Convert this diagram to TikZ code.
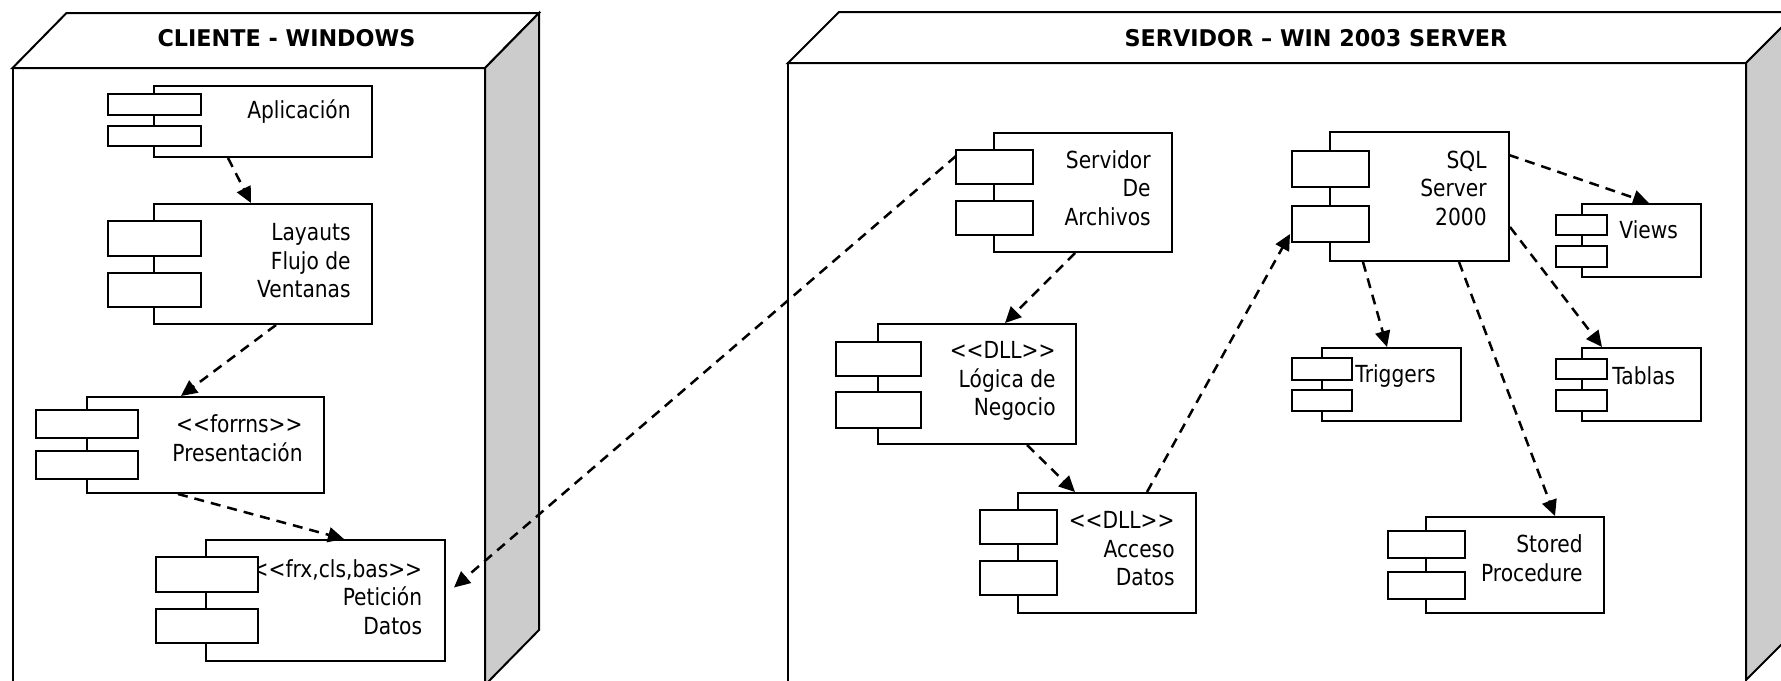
\documentclass[tikz,border=0pt]{standalone}
\usepackage{fontspec}
\setmainfont{DejaVu Sans}[FakeStretch=0.86]
\newfontfamily\titlefont{DejaVu Sans}[FakeStretch=0.97]
\usetikzlibrary{fit,calc,arrows.meta}
\newcommand\dlt{<\kern0pt<}
\newcommand\dgt{>\kern0pt>}
\begin{document}
\begin{tikzpicture}[x=0.5pt,y=-0.5pt,
  box/.style={draw, line width=1pt, fill=white, inner sep=0pt},
  txt/.style={inner sep=0pt, align=right, font=\fontsize{11.75pt}{14.25pt}\selectfont},
  txtl/.style={inner sep=0pt, anchor=west, font=\fontsize{11.75pt}{14.25pt}\selectfont},
  dep/.style={draw, line width=1.25pt, dash pattern=on 5pt off 3.5pt, -{Triangle[length=8pt,width=7.5pt]}},
  ttl/.style={inner sep=0pt, font=\titlefont\bfseries\fontsize{11.5pt}{14pt}\selectfont},
  face/.style={draw, line width=1pt, fill=white, line join=miter},
  side/.style={draw, line width=1pt, fill=black!20, line join=miter}]
\useasboundingbox (0,0) rectangle (1781,680);
\clip (0,0) rectangle (1781,680);

% ---------- client node ----------
\path[face] (12.5,68) rectangle (485,700);
\path[face] (12.5,68) -- (66.5,13) -- (539,13) -- (485,68) -- cycle;
\path[side] (485,68) -- (539,13) -- (539,630) -- (485,685) -- cycle;
\node[ttl] (tcli) at (286.5,38) {CLIENTE - WINDOWS};

% ---------- server node ----------
\path[face] (788,63) rectangle (1746,700);
\path[face] (788,63) -- (839,12) -- (1797,12) -- (1746,63) -- cycle;
\path[side] (1746,63) -- (1797,12) -- (1797,629) -- (1746,680) -- cycle;
\node[ttl] (tsrv) at (1316,38) {SERVIDOR – WIN 2003 SERVER};

% ---------- client components ----------
\node[box, fit={(154,86) (372,157)}] (apl) {};
\node[txt, anchor=east] (aplt) at (351,112) {Aplicación};
\node[box, fit={(107.5,94) (201,115)}] (apl1) {};
\node[box, fit={(107.5,126) (201,146)}] (apl2) {};

\node[box, fit={(154,204) (372,324)}] (lay) {};
\node[txt, anchor=east] (layt) at (351,261) {Layauts\\Flujo de\\Ventanas};
\node[box, fit={(107.5,221) (201,256)}] (lay1) {};
\node[box, fit={(107.5,273) (201,307)}] (lay2) {};

\node[box, fit={(87,397) (324,493)}] (pres) {};
\node[txt, anchor=east] (prest) at (303,438) {\dlt forrns\dgt\\Presentación};
\node[box, fit={(36,410) (138,438)}] (pres1) {};
\node[box, fit={(36,451) (138,479)}] (pres2) {};

\node[box, fit={(206,540) (445,661)}] (pet) {};
\node[txt, anchor=east] (pett) at (422.5,597) {\dlt frx,cls,bas\dgt\\Petición\\Datos};
\node[box, fit={(156,557) (258,592)}] (pet1) {};
\node[box, fit={(156,609) (258,643)}] (pet2) {};

% ---------- server components ----------
\node[box, fit={(994,133) (1172,252)}] (srv) {};
\node[txt, anchor=east] (srvt) at (1151,188) {Servidor\\De\\Archivos};
\node[box, fit={(956,150) (1033,184)}] (srv1) {};
\node[box, fit={(956,201) (1033,235)}] (srv2) {};

\node[box, fit={(878,324) (1076,444)}] (log) {};
\node[txt, anchor=east] (logt) at (1056,381) {\dlt DLL\dgt\\Lógica de\\Negocio};
\node[box, fit={(836,342) (921,376)}] (log1) {};
\node[box, fit={(836,392) (921,428)}] (log2) {};

\node[box, fit={(1018,493) (1196,613)}] (acc) {};
\node[txt, anchor=east] (acct) at (1175,549) {\dlt DLL\dgt\\Acceso\\Datos};
\node[box, fit={(980,510) (1057,544)}] (acc1) {};
\node[box, fit={(980,561) (1057,595)}] (acc2) {};

\node[box, fit={(1330,132) (1509,261)}] (sql) {};
\node[txt, anchor=east] (sqlt) at (1487,188) {SQL\\Server\\2000};
\node[box, fit={(1292,151) (1369,187)}] (sql1) {};
\node[box, fit={(1292,206) (1369,242)}] (sql2) {};

\node[box, fit={(1582,204) (1701,277)}] (vie) {};
\node[txtl] (viet) at (1619,230) {Views};
\node[box, fit={(1556,215) (1607,235)}] (vie1) {};
\node[box, fit={(1556,246) (1607,267)}] (vie2) {};

\node[box, fit={(1322,348) (1461,421)}] (tri) {};
\node[txtl] (trit) at (1355,376) {Triggers};
\node[box, fit={(1292,358) (1352,380)}] (tri1) {};
\node[box, fit={(1292,390) (1352,411)}] (tri2) {};

\node[box, fit={(1582,348) (1701,421)}] (tab) {};
\node[txtl] (tabt) at (1612,376) {Tablas};
\node[box, fit={(1556,359) (1607,379)}] (tab1) {};
\node[box, fit={(1556,390) (1607,411)}] (tab2) {};

\node[box, fit={(1426,517) (1604,613)}] (sto) {};
\node[txt, anchor=east] (stot) at (1583,558) {Stored\\Procedure};
\node[box, fit={(1388,531) (1465,558)}] (sto1) {};
\node[box, fit={(1388,572) (1465,599)}] (sto2) {};

% ---------- dependencies ----------
\draw[dep] ($(apl.south west)+(75,0)$) -- ($(lay.north west)+(98,0)$);
\draw[dep] ($(lay.south west)+(123,0)$) -- ($(pres.north west)+(95,0)$);
\draw[dep] ($(pres.south west)+(92,0)$) -- ($(pet.north west)+(139,0)$);
\draw[dep] ($(srv1.north west)+(1,7)$) -- ($(pet.east)+(8,-13)$);
\draw[dep] ($(srv.south west)+(82,0)$) -- ($(log.north west)+(128,0)$);
\draw[dep] ($(log.south west)+(150,0)$) -- ($(acc.north west)+(58,0)$);
\draw[dep] ($(acc.north west)+(130,0)$) -- ($(sql2.south west)+(-1,-9)$);
\draw[dep] ($(sql.north east)+(-1,24)$) -- ($(vie.north west)+(68,0)$);
\draw[dep] ($(sql.north east)+(0,96)$) -- ($(tab.north west)+(21,0)$);
\draw[dep] ($(sql.south west)+(34,0)$) -- ($(tri.north west)+(66,0)$);
\draw[dep] ($(sql.south west)+(130,0)$) -- ($(sto.north west)+(130,0)$);
\end{tikzpicture}
\end{document}
